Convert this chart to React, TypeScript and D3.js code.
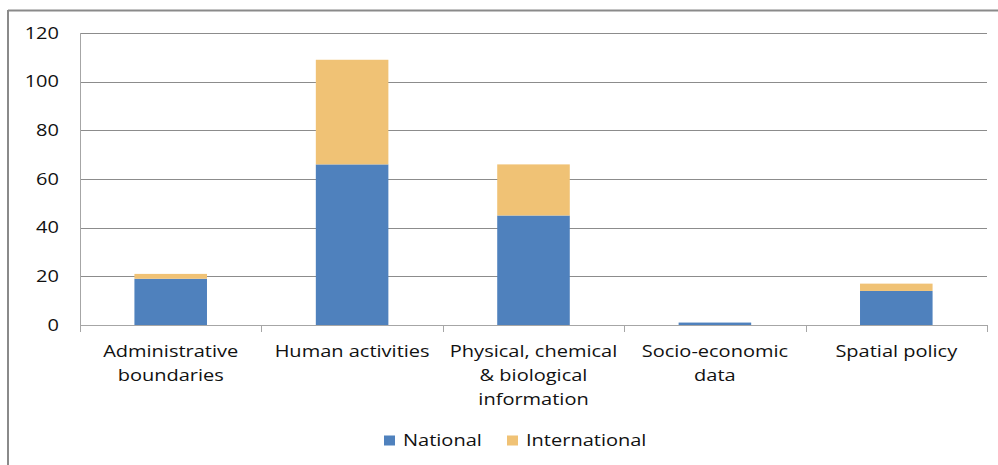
import React from "react";
import * as d3 from "d3";

const categories = [
  ["Administrative", "boundaries"],
  ["Human activities"],
  ["Physical, chemical", "& biological", "information"],
  ["Socio-economic", "data"],
  ["Spatial policy"],
];
const national = [19, 66, 45, 1, 14];
const international = [2, 43, 21, 0, 3];
const yTicks = [0, 20, 40, 60, 80, 100, 120];
const seriesNames = ["National", "International"];
const colors = ["#4f81bd", "#f0c275"];

const W = 998;
const H = 465;
const left = 80;
const right = 987;
const top = 33;
const bottom = 325;
const FONT = "'Open Sans', sans-serif";
const SX = 1.25;
const TXT = "#111";

function T({
  x,
  y,
  anchor = "start",
  children,
}: {
  x: number;
  y: number;
  anchor?: string;
  children: React.ReactNode;
}) {
  return (
    <text
      transform={`translate(${x},${y}) scale(${SX},1)`}
      dy="0.35em"
      textAnchor={anchor}
      fontFamily={FONT}
      fontSize={16}
      fill={TXT}
    >
      {children}
    </text>
  );
}

export default function App() {
  const x = d3
    .scaleBand<number>()
    .domain(categories.map((_, i) => i))
    .range([left, right])
    .paddingInner(0.6)
    .paddingOuter(0.3);
  const y = d3.scaleLinear().domain([0, 120]).range([bottom, top]);
  const step = (right - left) / categories.length;

  const stackData = categories.map((_, i) => ({
    i,
    National: national[i],
    International: international[i],
  }));
  const stacked = d3.stack<any>().keys(seriesNames)(stackData);

  return (
    <svg
      width={W}
      height={H}
      style={{ position: "absolute", left: 0, top: 0, background: "#fff" }}
    >
      {/* frame */}
      <line x1={8} y1={10.5} x2={W} y2={10.5} stroke="#8a8a8a" strokeWidth={2} />
      <line x1={8} y1={10} x2={8} y2={H} stroke="#8a8a8a" strokeWidth={2} />

      {/* gridlines */}
      {yTicks.map((t) => (
        <line
          key={t}
          x1={left}
          x2={right}
          y1={Math.round(y(t)) + 0.5}
          y2={Math.round(y(t)) + 0.5}
          stroke={t === 0 ? "#a6a6a6" : "#8c8c8c"}
          strokeWidth={1}
        />
      ))}
      {/* y axis line */}
      <line x1={left + 0.5} x2={left + 0.5} y1={top} y2={bottom + 6} stroke="#a6a6a6" />
      {/* y tick labels */}
      {yTicks.map((t) => (
        <T key={t} x={59} y={y(t)} anchor="end">
          {t}
        </T>
      ))}
      {/* x ticks */}
      {d3.range(categories.length + 1).map((k) => (
        <line
          key={k}
          x1={Math.round(left + k * step) + 0.5}
          x2={Math.round(left + k * step) + 0.5}
          y1={bottom}
          y2={bottom + 7}
          stroke="#a6a6a6"
        />
      ))}

      {/* bars */}
      {stacked.map((s, si) => (
        <g key={s.key} fill={colors[si]}>
          {s.map((d, i) =>
            d[1] - d[0] > 0 ? (
              <rect
                key={i}
                x={x(i)}
                width={x.bandwidth()}
                y={y(d[1])}
                height={y(d[0]) - y(d[1])}
              />
            ) : null
          )}
        </g>
      ))}

      {/* category labels */}
      {categories.map((lines, i) =>
        lines.map((l, j) => (
          <T
            key={`${i}-${j}`}
            x={(x(i) as number) + x.bandwidth() / 2}
            y={351 + j * 24}
            anchor="middle"
          >
            {l}
          </T>
        ))
      )}

      {/* legend */}
      {[384, 507].map((lx, k) => (
        <g key={k}>
          <rect x={lx} y={435.5} width={11} height={10} fill={colors[k]} />
          <T x={lx + 19} y={440.5}>
            {seriesNames[k]}
          </T>
        </g>
      ))}
    </svg>
  );
}
